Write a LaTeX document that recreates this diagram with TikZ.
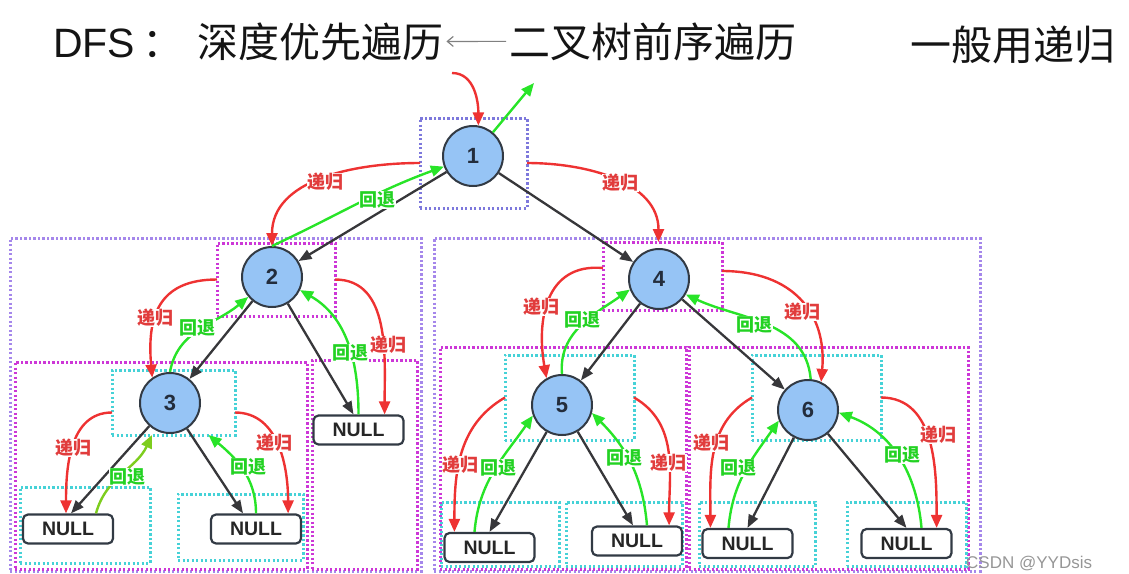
\documentclass[tikz,border=0pt]{standalone}
\usepackage{fontspec}
\setmainfont{Noto Sans CJK SC}
\newfontfamily\cjk{Noto Sans CJK SC}
\newfontfamily\arl{Liberation Sans}
\usetikzlibrary{arrows.meta}
\definecolor{rd}{RGB}{238,50,50}
\definecolor{rdt}{RGB}{225,60,60}
\definecolor{gn}{RGB}{40,228,40}
\definecolor{gnt}{RGB}{35,210,35}
\definecolor{lime}{RGB}{125,205,30}
\definecolor{ed}{RGB}{55,55,58}
\definecolor{lav}{RGB}{165,135,235}
\definecolor{lavb}{RGB}{125,120,220}
\definecolor{mag}{RGB}{205,55,215}
\definecolor{cy}{RGB}{70,210,215}
\definecolor{blu}{RGB}{150,196,245}
\definecolor{bord}{RGB}{50,58,68}
\definecolor{numc}{RGB}{35,45,60}
\definecolor{tc}{RGB}{20,20,20}
\definecolor{wm}{RGB}{150,150,150}
\begin{document}
\begin{tikzpicture}[x=1pt,y=-1pt,
  tnode/.style={circle, draw=bord, fill=blu, line width=2pt, minimum size=60pt, inner sep=0pt, text=numc, font=\arl\bfseries\fontsize{22}{22}\selectfont},
  nullbox/.style={rectangle, rounded corners=5pt, draw=bord, fill=white, line width=2.2pt, minimum width=90pt, minimum height=29pt, inner sep=0pt, font=\arl\bfseries\fontsize{19.5}{19.5}\selectfont, text=black!85},
  dbox/.style={rectangle, line width=3pt, dash pattern=on 2.4pt off 2.1pt, inner sep=0pt, outer sep=0pt},
  lavbox/.style={dbox, draw=lav},
  bluebox/.style={dbox, draw=lavb},
  magbox/.style={dbox, draw=mag},
  cybox/.style={dbox, draw=cy},
  treeedge/.style={draw=ed, line width=2.3pt, -{Triangle[length=13pt,width=10pt]}},
  rarr/.style={draw=rd, line width=2.4pt, -{Triangle[length=13pt,width=11pt]}},
  garr/.style={draw=gn, line width=2.4pt, -{Triangle[length=13pt,width=11pt]}},
  larr/.style={draw=lime, line width=2.4pt, -{Triangle[length=13pt,width=11pt]}},
  lblr/.style={text=rdt, fill=white, inner sep=0.5pt, font=\cjk\bfseries\fontsize{18}{18}\selectfont},
  lblg/.style={lblr, text=gnt},
  ttl/.style={inner sep=0pt, font=\cjk\fontsize{41}{41}\selectfont, text=tc},
]
\useasboundingbox (0,0) rectangle (1129,573);
\clip (0,0) rectangle (1129,573);

% title
\node[ttl, anchor=base west] (t0) at (53,57) {{\arl DFS}\,：};
\node[ttl, anchor=base west] (t1) at (197,57) {深度优先遍历};
\node[ttl, anchor=base west] (t2) at (509,57) {二叉树前序遍历};
\node[ttl, anchor=base west] (t3) at (910,60) {一般用递归};
\draw[gray, line width=1.2pt, -{Straight Barb[length=6pt,width=10pt]}] ([xshift=-3pt]t2.west) -- ([xshift=3pt]t1.east);

% dotted boxes
\node[lavbox, minimum width=411pt, minimum height=333pt] (bigL) at (215.5,404.5) {};
\node[lavbox, minimum width=546pt, minimum height=333pt] (bigR) at (707,404.5) {};
\node[bluebox, minimum width=107pt, minimum height=90pt] (b1) at (473.5,163) {};
\node[magbox, minimum width=118pt, minimum height=73pt] (b2) at (276,279.5) {};
\node[magbox, minimum width=119pt, minimum height=68pt] (b4) at (662.5,276) {};
\node[magbox, minimum width=292pt, minimum height=207pt] (b3s) at (161,465.5) {};
\node[magbox, minimum width=105pt, minimum height=209pt] (bn2) at (364.5,464.5) {};
\node[magbox, minimum width=246pt, minimum height=222pt] (b5s) at (563,458) {};
\node[magbox, minimum width=279pt, minimum height=222pt] (b6s) at (828.5,458) {};
\node[cybox, minimum width=123pt, minimum height=65pt] (b3c) at (173.5,402.5) {};
\node[cybox, minimum width=130pt, minimum height=76pt] (c3l) at (85,525) {};
\node[cybox, minimum width=125pt, minimum height=66pt] (c3r) at (240.5,527) {};
\node[cybox, minimum width=129pt, minimum height=85pt] (b5c) at (569.5,397.5) {};
\node[cybox, minimum width=129pt, minimum height=85pt] (b6c) at (816.5,397.5) {};
\node[cybox, minimum width=118pt, minimum height=64pt] (c5l) at (500,534) {};
\node[cybox, minimum width=116pt, minimum height=64pt] (c5r) at (624,534) {};
\node[cybox, minimum width=116pt, minimum height=64pt] (c6l) at (757,534) {};
\node[cybox, minimum width=119pt, minimum height=64pt] (c6r) at (906.5,534) {};

% tree nodes
\node[tnode] (n1) at (473,156) {1};
\node[tnode] (n2) at (272,277) {2};
\node[tnode] (n3) at (170,403) {3};
\node[tnode] (n4) at (659,279) {4};
\node[tnode] (n5) at (562,405) {5};
\node[tnode] (n6) at (808,410) {6};
\node[nullbox] (n3l) at (68,529) {NULL};
\node[nullbox] (n3r) at (256,529) {NULL};
\node[nullbox] (nr2) at (358.5,430) {NULL};
\node[nullbox] (n5l) at (489.5,547.5) {NULL};
\node[nullbox] (n5r) at (637,541) {NULL};
\node[nullbox] (n6l) at (747.5,543.5) {NULL};
\node[nullbox] (n6r) at (906.5,543.5) {NULL};

% tree edges
\draw[treeedge] (n1) -- (n2);
\draw[treeedge] (n1) -- (n4);
\draw[treeedge] (n2) -- (n3);
\draw[treeedge] (n2) -- ([xshift=-5pt]nr2.north);
\draw[treeedge] (n3) -- ([xshift=3pt]n3l.north);
\draw[treeedge] (n3) -- ([xshift=-13pt]n3r.north);
\draw[treeedge] (n4) -- (n5);
\draw[treeedge] (n4) -- (n6);
\draw[treeedge] (n5) -- (n5l.north);
\draw[treeedge] (n5) -- ([xshift=-4pt]n5r.north);
\draw[treeedge] (n6) -- (n6l.north);
\draw[treeedge] (n6) -- (n6r.north);

% entry / exit
\coordinate (in0) at (452,73);
\coordinate (out0) at (534,83);
\draw[rarr] (in0) to[out=0,in=90] (n1.80);
\draw[garr] (n1.50) -- (out0);

% recursion (red) and backtrack (green)
\draw[rarr] (b1.west) to[out=180,in=90] (n2.north);
\draw[garr] (n2.north) to[out=25,in=200] (n1.200);
\draw[rarr] (b1.east) to[out=0,in=90] ([xshift=-4pt]b4.north);

\draw[rarr] (b2.west) to[out=180,in=95,looseness=1.3] (n3.125);
\draw[garr] (n3.north) to[out=80,in=220] (n2.220);
\draw[rarr] (b2.east) to[out=0,in=90] ([xshift=-20pt]nr2.north east);
\draw[garr] (nr2.north) to[out=90,in=-30] (n2.-25);

\draw[rarr] ([yshift=-10pt]b3c.west) to[out=180,in=90] ([xshift=-2pt]n3l.north);
\draw[larr] ([xshift=28pt]n3l.north) to[out=75,in=245] ([xshift=-21.5pt]b3c.south);
\draw[rarr] ([yshift=-10pt]b3c.east) to[out=0,in=90] ([xshift=-14pt]n3r.north east);
\draw[garr] (n3r.north) to[out=90,in=-40] ([xshift=35pt]b3c.south);

\draw[rarr] ([yshift=8pt]b4.west) to[out=175,in=100,looseness=1.2] (n5.120);
\draw[garr] (n5.north) to[out=95,in=215] (n4.200);
\draw[rarr] ([yshift=5pt]b4.east) to[out=0,in=85,looseness=1.2] (n6.65);
\draw[garr] (n6.85) to[out=95,in=-25] (n4.-30);

\draw[rarr] (b5c.west) to[out=210,in=90] ([xshift=11pt]n5l.north west);
\draw[garr] ([xshift=-15pt]n5l.north) to[out=85,in=235] (n5.200);
\draw[rarr] (b5c.east) to[out=-30,in=90] ([xshift=-14pt]n5r.north east);
\draw[garr] ([xshift=10pt]n5r.north) to[out=95,in=-45] (n5.-15);

\draw[rarr] (b6c.west) to[out=210,in=90] ([xshift=9pt]n6l.north west);
\draw[garr] ([xshift=-19pt]n6l.north) to[out=85,in=235] (n6.200);
\draw[rarr] (b6c.east) to[out=0,in=90] ([xshift=-16pt]n6r.north east);
\draw[garr] ([xshift=15pt]n6r.north) to[out=95,in=-20] (n6.-5);

% labels
\node[lblr] (l1r) at (325,182) {递归};
\node[lblg] (l1g) at (377,200) {回退};
\node[lblr] (l14r) at (620,183) {递归};
\node[lblr] (l23r) at (155,318) {递归};
\node[lblg] (l32g) at (197,328) {回退};
\node[lblr] (l2nr) at (388,345) {递归};
\node[lblg] (ln2g) at (350,353) {回退};
\node[lblr] (l3lr) at (73,448) {递归};
\node[lblg] (l3lg) at (127,477) {回退};
\node[lblr] (l3rr) at (274,443) {递归};
\node[lblg] (l3rg) at (248,467) {回退};
\node[lblr] (l45r) at (541,307) {递归};
\node[lblg] (l54g) at (582,320) {回退};
\node[lblr] (l46r) at (802,312) {递归};
\node[lblg] (l64g) at (754,325) {回退};
\node[lblr] (l5lr) at (460,465) {递归};
\node[lblg] (l5lg) at (498,468) {回退};
\node[lblr] (l5rr) at (668,463) {递归};
\node[lblg] (l5rg) at (624,458) {回退};
\node[lblr] (l6lr) at (711,443) {递归};
\node[lblg] (l6lg) at (738,468) {回退};
\node[lblr] (l6rr) at (938,435) {递归};
\node[lblg] (l6rg) at (902,455) {回退};

% watermark
\node[anchor=base west, inner sep=0pt, text=wm, font=\arl\fontsize{17}{17}\selectfont] (wm) at (966,568) {CSDN @YYDsis};
\end{tikzpicture}
\end{document}
